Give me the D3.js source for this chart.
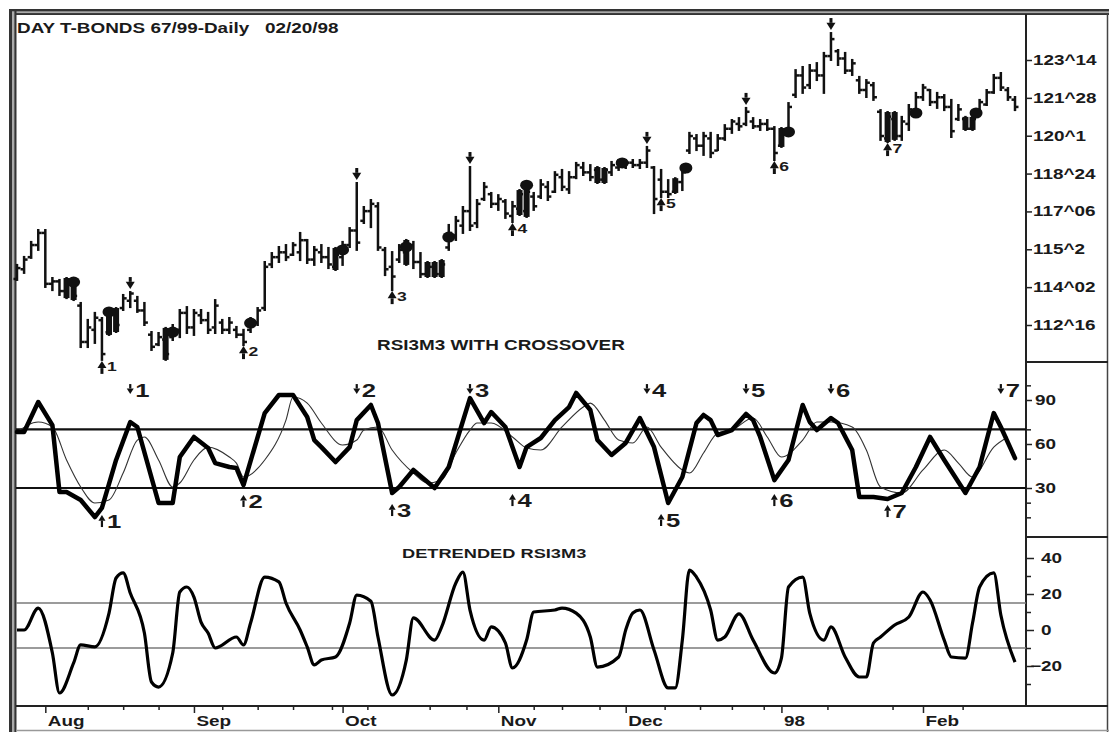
<!DOCTYPE html>
<meta charset="utf-8">
<script src="https://d3js.org/d3.v7.min.js"></script>
<style>
    body {margin: 0; background: #fff;}
    svg text {font-family: 'Liberation Sans', Arial, sans-serif; font-weight: bold; fill: #1a1a1a;}
</style>
<body>
<svg width="1109" height="732"></svg>
<script>
    // daily bars, day 0 = Jul 28 1997 ... day 141 = Feb 20 1998
    const hi = [114.98,115.31,115.93,116.42,116.42,114.44,114.36,114.44,114.36,113.41,
        112.71,113.00,112.79,113.20,113.20,113.74,113.86,113.66,113.41,112.21,
        112.17,112.38,112.50,113.12,113.24,113.12,113.12,113.00,113.53,112.71,
        112.79,112.42,112.30,112.79,113.20,115.10,115.47,115.72,115.80,115.88,
        116.30,116.01,115.72,115.80,115.68,115.68,115.93,116.50,118.36,117.37,
        117.66,117.53,115.68,115.51,115.80,116.01,115.93,115.47,115.10,115.10,
        115.18,116.63,116.96,117.37,119.02,117.66,118.36,117.95,117.86,117.66,
        117.58,118.07,118.15,117.95,118.48,118.40,118.81,118.90,118.81,119.19,
        119.19,119.10,119.02,118.98,119.23,119.31,119.31,119.31,119.31,119.85,
        119.02,118.90,118.48,118.56,118.90,120.43,120.34,120.43,120.43,120.34,
        120.75,120.96,121.04,121.46,121.04,120.96,120.96,120.67,120.63,121.66,
        123.02,123.15,123.23,123.31,123.73,124.55,123.85,123.73,123.44,122.74,
        122.61,122.49,121.37,121.29,121.29,121.09,121.58,122.08,122.41,122.20,
        122.08,121.99,121.79,121.58,121.09,121.09,121.79,122.20,122.82,122.90,
        122.28,121.91];
    const lo = [114.36,114.65,115.27,115.60,114.07,113.94,113.74,113.61,113.53,111.59,
        111.59,111.76,111.06,112.09,112.21,113.12,113.24,113.04,112.50,111.47,
        111.67,111.06,111.88,112.00,112.17,112.09,112.58,112.17,112.17,112.17,
        112.17,112.00,111.67,112.21,112.50,113.12,114.89,115.10,115.18,115.39,
        115.18,115.06,114.98,115.10,114.85,114.77,114.98,115.72,115.60,116.71,
        116.54,115.60,114.56,113.94,115.10,114.98,114.85,114.48,114.48,114.48,
        114.48,115.60,116.01,116.30,116.42,116.54,117.66,117.37,117.25,116.92,
        116.75,117.04,116.96,117.25,117.74,117.66,117.99,118.07,117.95,118.56,
        118.69,118.48,118.36,118.36,118.69,118.90,118.98,119.02,118.98,119.02,
        117.12,117.78,117.78,117.95,118.07,119.60,119.72,119.52,119.43,119.72,
        120.14,120.43,120.55,120.75,120.63,120.55,120.55,119.31,119.85,120.43,
        121.91,122.08,122.28,122.61,122.08,123.44,123.23,122.90,122.82,122.08,
        121.91,121.79,120.14,120.05,120.14,120.14,120.55,121.25,121.79,121.58,
        121.46,121.37,120.26,120.96,120.55,120.55,121.17,121.58,122.08,122.20,
        121.79,121.37];
    const op = [114.40,114.8,115.3,115.8,116.3,114.2,114.3,113.9,114.2,113.3,
        111.8,112.3,112.7,112.2,113.0,113.2,113.5,113.5,113.1,112.1,
        111.7,111.9,112.0,112.3,113.0,112.4,112.9,112.7,112.4,112.6,
        112.3,112.3,112.1,112.3,112.6,113.2,115.0,115.3,115.5,115.4,
        115.5,116.0,115.2,115.5,115.3,114.9,115.3,115.8,116.4,116.8,
        117.2,117.4,115.6,114.9,115.2,115.5,115.8,115.1,114.6,114.9,
        114.6,115.7,116.2,116.6,117.2,116.7,117.7,117.9,117.5,117.6,
        117.0,117.3,117.2,117.8,117.8,118.2,118.0,118.6,118.1,118.6,
        119.0,118.8,118.9,118.5,118.8,119.0,119.1,119.2,119.1,119.2,
        119.0,118.5,118.0,118.0,118.4,119.7,120.2,119.9,120.2,119.7,
        120.2,120.6,120.8,120.8,120.9,120.7,120.8,120.6,119.9,120.5,
        122.0,122.8,122.4,123.0,122.8,123.6,123.8,123.5,123.0,122.6,
        122.2,122.4,121.3,120.2,121.0,120.3,120.8,121.3,121.9,122.2,
        121.7,121.9,121.5,121.0,121.0,120.6,121.2,121.6,122.1,122.7,
        122.2,121.8];
    const cl = [114.85,115.2,115.8,116.3,114.2,114.3,113.9,114.3,113.7,111.8,
        112.4,112.8,111.3,113.1,112.5,113.6,113.8,113.1,112.6,111.6,
        112.0,111.3,112.3,113.0,112.4,113.0,112.7,112.3,113.3,112.3,
        112.6,112.1,111.8,112.7,113.1,114.9,115.3,115.5,115.3,115.8,
        116.0,115.2,115.6,115.3,115.0,115.4,115.8,116.4,115.9,117.2,
        117.5,115.7,114.8,114.5,115.6,115.8,115.1,114.6,114.9,114.6,
        115.0,116.3,116.8,117.2,116.6,117.5,118.2,117.5,117.7,117.1,
        117.4,117.9,118.0,117.4,118.3,117.8,118.7,118.2,118.6,119.1,
        118.8,118.6,118.5,118.9,119.1,119.2,119.2,119.1,119.2,119.7,
        117.7,118.0,117.9,118.4,118.8,120.3,119.9,120.3,119.6,120.2,
        120.6,120.9,120.7,121.3,120.7,120.8,120.6,119.6,120.5,121.5,
        122.8,122.3,123.0,122.8,123.6,124.3,123.5,123.0,123.3,122.2,
        122.5,121.9,120.3,121.1,120.3,120.9,121.4,121.9,122.3,121.7,
        121.9,121.5,120.5,121.4,120.6,121.0,121.7,122.1,122.7,122.3,
        121.9,121.5];
    const heavyDays = [7,8,13,14,21,45,55,58,59,60,71,72,82,83,93,108,123,124,134,135];
    const dotDays = [8,13,22,33,46,55,61,72,85.5,94.5,109,127,135.5];
    const dotVals = [114.27,113.04,112.21,112.58,115.60,115.72,116.13,118.27,119.19,118.98,120.47,121.25,121.25];

    const sellDays = [16,48,64,89,103,115,139];
    const buyDays = [12,32,53,70,91,107,123];
    const buyLabelLevels = [2.7,16.4,10.2,17.0,3.4,17.0,9.5];
    const sellLabelLevel = 92;

    // RSI3M3 (thick) and its signal (thin): [day, value]
    const rsi = [[0,68.2],[1,68.2],[3,88.6],[5,72.9],[6,27.3],[7,27.3],[9,21.8],[11,10.2],[12,16.4],[14,49.1],
        [16,75.0],[17,71.6],[20,19.8],[22,19.8],[23,51.1],[25,64.8],[27,57.3],[28,47.0],[30,44.3],[31,43.6],
        [32,32.0],[35,81.1],[37,93.4],[39,93.4],[41,78.4],[42,62.7],[43,57.9],[45,47.7],[47,57.9],[48,76.3],
        [50,86.6],[51,74.3],[53,26.6],[54,30.7],[56,42.3],[58,34.1],[59,30.0],[61,44.3],[64,91.3],[66,74.3],
        [67,81.8],[69,71.6],[71,44.3],[72,57.9],[74,64.1],[76,76.3],[78,85.2],[79,94.8],[81,83.2],[82,62.7],
        [84,52.5],[86,60.7],[88,77.7],[90,57.9],[92,19.8],[94,37.5],[96,74.3],[97,79.8],[98,76.3],[99,66.1],
        [101,69.5],[103,80.5],[104,76.3],[105,64.8],[107,35.4],[109,49.1],[111,86.6],[112,75.0],[113,69.5],[115,77.7],
        [116,74.3],[118,55.9],[119,23.9],[121,23.9],[123,22.5],[125,26.6],[127,44.3],[129,64.8],[131,49.1],[134,26.6],
        [136,44.3],[138,81.1],[139,71.6],[141,50.4]];
    const signal = [[0,68.2],[3,75.0],[5,71.6],[7,49.1],[9,30.7],[11,19.8],[13,21.8],[15,40.2],[17,62.7],[18,64.8],
        [20,49.1],[22,30.7],[23,33.4],[25,49.1],[27,57.9],[30,51.1],[31,47.0],[32,37.5],[35,49.1],[38,76.3],
        [39,92.0],[41,87.9],[43,74.3],[46,59.3],[48,62.7],[49,69.5],[51,71.6],[53,55.9],[56,40.2],[58,33.4],
        [60,35.4],[62,53.9],[64,69.5],[65,74.3],[67,74.3],[70,64.8],[72,57.3],[74,55.9],[77,71.6],[80,85.2],
        [81,87.9],[83,76.3],[85,62.7],[87,60.7],[89,71.6],[91,57.9],[94,42.3],[95,40.2],[97,53.9],[99,67.5],
        [101,69.5],[104,77.7],[106,64.8],[108,51.1],[111,62.7],[113,75.0],[115,75.0],[118,71.6],[120,55.9],[122,30.7],
        [125,26.6],[128,42.3],[131,55.9],[133,47.0],[135,37.5],[138,57.9],[140,64.8]];
    // detrended RSI3M3
    const detrended = [[0,0],[1,0],[3,12.2],[5,-12.8],[6,-35.0],[8,-18.3],[9,-8.3],[11,-9.4],[13,9.4],[14,28.9],
        [15,31.7],[16,20.6],[18,-1.7],[19,-28.9],[20,-31.7],[22,-12.8],[23,21.1],[24,23.9],[25,18.3],[26,4.4],
        [27,-1.7],[28,-10.0],[31,-3.9],[32,-8.3],[33,3.9],[35,29.4],[37,26.7],[38,15.0],[40,0],[41,-9.4],
        [42,-19.4],[43,-16.7],[45,-15.0],[47,3.9],[48,19.4],[50,16.0],[51,-3.9],[53,-36.1],[55,-16.7],[56,6.7],
        [59,-5.6],[60,1.7],[62,26.1],[63,32.2],[64,11.1],[66,-5.6],[67,1.7],[69,-7.2],[70,-21.1],[72,-5.6],
        [73,10.0],[76,11.1],[77,12.2],[79,9.4],[81,-3.9],[82,-20.6],[85,-15.0],[86,0],[87,9.4],[88,11.1],
        [90,-11.1],[92,-32.2],[93,-32.2],[94,-5.6],[95,33.3],[96,29.4],[98,11.1],[99,-5.6],[100,-3.9],[102,9.0],
        [104,-5.6],[107,-23.9],[108,-15.6],[109,23.9],[111,29.4],[112,9.4],[114,-5.6],[115,1.7],[117,-15.0],[119,-26.1],
        [120,-26.1],[121,-7.2],[122,-3.9],[124,2.8],[126,7.2],[128,21.1],[129,16.7],[131,-5.6],[132,-15.0],[134,-15.6],
        [135,3.9],[136,23.9],[138,31.7],[139,8.3],[141,-17.8]];

    const priceTicks = [123.4375,121.875,120.3125,118.75,117.1875,115.625,114.0625,112.5];
    const priceLabels = ["123^14","121^28","120^1","118^24","117^06","115^2","114^02","112^16"];
    const rsiTicks = [90,60,30], rsiMinor = [100,70,50,20,10], rsiBands = [70,30];
    const detTicks = [40,20,0,-20], detMinor = [30,10,-10,-30], detBands = [15,-10];
    const monthDays = [4,25,46,68,86,108,128];
    const monthLabels = ["Aug","Sep","Oct","Nov","Dec","98","Feb"];
    const weekDays = [10,15,20,29,34,39,44.5,49.5,58.3,63.5,73,77,82.3,91.5,96.5,101,105.5,114.5,123.7,133.6];

    var svg = d3.select("svg");
    var AX = 1026, LEFT = 16, BOTTOM = 706;

    var x = d3.scaleLinear().domain([0, 141]).range([17, 1015]);
    var yP = d3.scaleLinear().domain([112.5, 123.4375]).range([325, 60]);
    var yR = d3.scaleLinear().domain([30, 90]).range([488, 400]);
    var yD = d3.scaleLinear().domain([-20, 40]).range([666, 558]);

    // frame
    var frame = svg.append("g");
    frame.append("rect").attr("x", 9).attr("y", 9).attr("width", 1100).attr("height", 6).attr("fill", "#333");
    frame.append("rect").attr("x", 9).attr("y", 11.3).attr("width", 1100).attr("height", 1.8).attr("fill", "#aaa");
    frame.append("rect").attr("x", 9).attr("y", 9).attr("width", 7.5).attr("height", 723).attr("fill", "#333");
    frame.append("rect").attr("x", 12).attr("y", 11.3).attr("width", 2.4).attr("height", 721).attr("fill", "#aaa");
    frame.append("line").attr("x1", 1107.5).attr("x2", 1107.5).attr("y1", 14).attr("y2", 732).attr("stroke", "#444").attr("stroke-width", 1.5);
    frame.append("line").attr("x1", 16).attr("x2", 1109).attr("y1", 730.5).attr("y2", 730.5).attr("stroke", "#999").attr("stroke-width", 1.5);
    frame.append("line").attr("x1", LEFT).attr("x2", 1108).attr("y1", BOTTOM).attr("y2", BOTTOM).attr("stroke", "#222").attr("stroke-width", 2);
    frame.append("line").attr("x1", AX).attr("x2", AX).attr("y1", 14).attr("y2", BOTTOM).attr("stroke", "#222").attr("stroke-width", 2);
    [362, 537].forEach(function(yy){
        frame.append("line").attr("x1", AX).attr("x2", 1108).attr("y1", yy).attr("y2", yy).attr("stroke", "#222").attr("stroke-width", 2);
    });

    // titles
    svg.append("text").attr("x", 17).attr("y", 33).style("font-size", "14px").text("DAY T-BONDS 67/99-Daily");
    svg.append("text").attr("x", 265).attr("y", 33).style("font-size", "14px").text("02/20/98");
    svg.append("text").attr("x", 377).attr("y", 350).style("font-size", "14px").text("RSI3M3 WITH CROSSOVER");
    svg.append("text").attr("x", 402).attr("y", 558).style("font-size", "13.5px").text("DETRENDED RSI3M3");

    // price bars
    var bars = svg.append("g").attr("stroke", "#111").attr("stroke-width", 2.5);
    hi.forEach(function(h, i){
        var cx = x(i);
        bars.append("line").attr("x1", cx).attr("x2", cx).attr("y1", yP(h) - 1).attr("y2", yP(lo[i]) + 1);
        bars.append("line").attr("x1", cx - 3.5).attr("x2", cx).attr("y1", yP(op[i])).attr("y2", yP(op[i]));
        bars.append("line").attr("x1", cx).attr("x2", cx + 3.5).attr("y1", yP(cl[i])).attr("y2", yP(cl[i]));
    });
    svg.append("g").selectAll("rect")
        .data(heavyDays)
        .enter().append("rect")
        .attr("x", d => x(d) - 3)
        .attr("y", d => yP(hi[d]))
        .attr("width", 6)
        .attr("height", d => yP(lo[d]) - yP(hi[d]))
        .attr("fill", "#111");
    svg.append("g").selectAll("ellipse")
        .data(dotDays)
        .enter().append("ellipse")
        .attr("cx", d => x(d))
        .attr("cy", (d, i) => yP(dotVals[i]))
        .attr("rx", 6.5)
        .attr("ry", 5.5)
        .attr("fill", "#111");

    function arrow(g, cx, yTop, len, dir, w, sw){
        var head = w * 0.8, p;
        if (dir > 0){
            g.append("line").attr("x1", cx).attr("x2", cx).attr("y1", yTop).attr("y2", yTop + len - head)
                .attr("stroke", "#111").attr("stroke-width", sw);
            p = "M" + (cx - w/2) + "," + (yTop + len - head) + "L" + (cx + w/2) + "," + (yTop + len - head) + "L" + cx + "," + (yTop + len) + "Z";
        } else {
            g.append("line").attr("x1", cx).attr("x2", cx).attr("y1", yTop + head).attr("y2", yTop + len)
                .attr("stroke", "#111").attr("stroke-width", sw);
            p = "M" + (cx - w/2) + "," + (yTop + head) + "L" + (cx + w/2) + "," + (yTop + head) + "L" + cx + "," + yTop + "Z";
        }
        g.append("path").attr("d", p).attr("fill", "#111");
    }

    // signal arrows on price
    var marks = svg.append("g");
    sellDays.slice(0, 6).forEach(function(d){
        var tip = yP(hi[d]) - 3;
        arrow(marks, x(d), tip - 12, 12, 1, 9, 3);
    });
    buyDays.forEach(function(d, i){
        var top = yP(lo[d]) + 1;
        arrow(marks, x(d), top, 13, -1, 9, 3);
        marks.append("text").attr("x", x(d) + 5).attr("y", top + 10).style("font-size", "13px").text(i + 1);
    });

    // RSI panel
    var rsiG = svg.append("g");
    rsiBands.forEach(function(v){
        rsiG.append("line").attr("x1", LEFT).attr("x2", AX).attr("y1", yR(v)).attr("y2", yR(v))
            .attr("stroke", "#111").attr("stroke-width", 2.2);
    });
    rsiG.append("path").datum(signal)
        .attr("d", d3.line().x(d => x(d[0])).y(d => yR(d[1])).curve(d3.curveMonotoneX))
        .attr("fill", "none").attr("stroke", "#333").attr("stroke-width", 1.1);
    rsiG.append("path").datum(rsi)
        .attr("d", d3.line().x(d => x(d[0])).y(d => yR(d[1])))
        .attr("fill", "none").attr("stroke", "#000").attr("stroke-width", 4.5)
        .attr("stroke-linejoin", "round").attr("stroke-linecap", "round");
    sellDays.forEach(function(d, i){
        var base = yR(sellLabelLevel);
        arrow(rsiG, x(d), base - 13, 10, 1, 7, 2.2);
        rsiG.append("text").attr("x", x(d) + 5).attr("y", base).style("font-size", "19px").text(i + 1);
    });
    buyDays.forEach(function(d, i){
        var base = yR(buyLabelLevels[i]);
        arrow(rsiG, x(d), base - 13, 12, -1, 7, 2.2);
        rsiG.append("text").attr("x", x(d) + 5).attr("y", base).style("font-size", "19px").text(i + 1);
    });

    // detrended panel
    var detG = svg.append("g");
    detBands.forEach(function(v){
        detG.append("line").attr("x1", LEFT).attr("x2", AX).attr("y1", yD(v)).attr("y2", yD(v))
            .attr("stroke", "#7a7a7a").attr("stroke-width", 1.6);
    });
    detG.append("path").datum(detrended)
        .attr("d", d3.line().x(d => x(d[0])).y(d => yD(d[1])).curve(d3.curveMonotoneX))
        .attr("fill", "none").attr("stroke", "#000").attr("stroke-width", 3.2)
        .attr("stroke-linejoin", "round");

    // right axes
    var pAxis = svg.append("g").attr("transform", "translate(" + AX + ",0)")
        .call(d3.axisRight(yP).tickValues(priceTicks).tickSize(6).tickPadding(1)
            .tickFormat((d, i) => priceLabels[i]));
    var rAxis = svg.append("g").attr("transform", "translate(" + AX + ",0)")
        .call(d3.axisRight(yR).tickValues(rsiTicks).tickSize(6).tickPadding(3));
    var rMinor = svg.append("g").attr("transform", "translate(" + AX + ",0)")
        .call(d3.axisRight(yR).tickValues(rsiMinor).tickSize(5).tickFormat(""));
    var dAxis = svg.append("g").attr("transform", "translate(" + AX + ",0)")
        .call(d3.axisRight(yD).tickValues(detTicks).tickSize(8).tickPadding(7));
    var dMinor = svg.append("g").attr("transform", "translate(" + AX + ",0)")
        .call(d3.axisRight(yD).tickValues(detMinor).tickSize(5).tickFormat(""));
    dAxis.selectAll("text").filter(d => d < 0).attr("x", 4);

    // date axis
    var wAxis = svg.append("g").attr("transform", "translate(0," + BOTTOM + ")")
        .call(d3.axisBottom(x).tickValues(weekDays).tickSize(4).tickFormat(""));
    var mAxis = svg.append("g").attr("transform", "translate(0," + BOTTOM + ")")
        .call(d3.axisBottom(x).tickValues(monthDays).tickSize(7)
            .tickFormat((d, i) => monthLabels[i]));
    mAxis.selectAll("text").attr("text-anchor", "start").attr("x", 2).attr("y", 10).attr("dy", "0.71em");

    [pAxis, rAxis, rMinor, dAxis, dMinor, wAxis, mAxis].forEach(function(a){
        a.select(".domain").remove();
        a.selectAll(".tick line").attr("stroke", "#222").attr("stroke-width", 1.5);
        a.selectAll("text").style("font-size", "14px");
    });

    // the source chart is stretched horizontally, so widen every label
    svg.selectAll("text").each(function(){
        var w = this.getComputedTextLength();
        d3.select(this).attr("textLength", w * 1.35).attr("lengthAdjust", "spacingAndGlyphs");
    });
</script>
</body>
